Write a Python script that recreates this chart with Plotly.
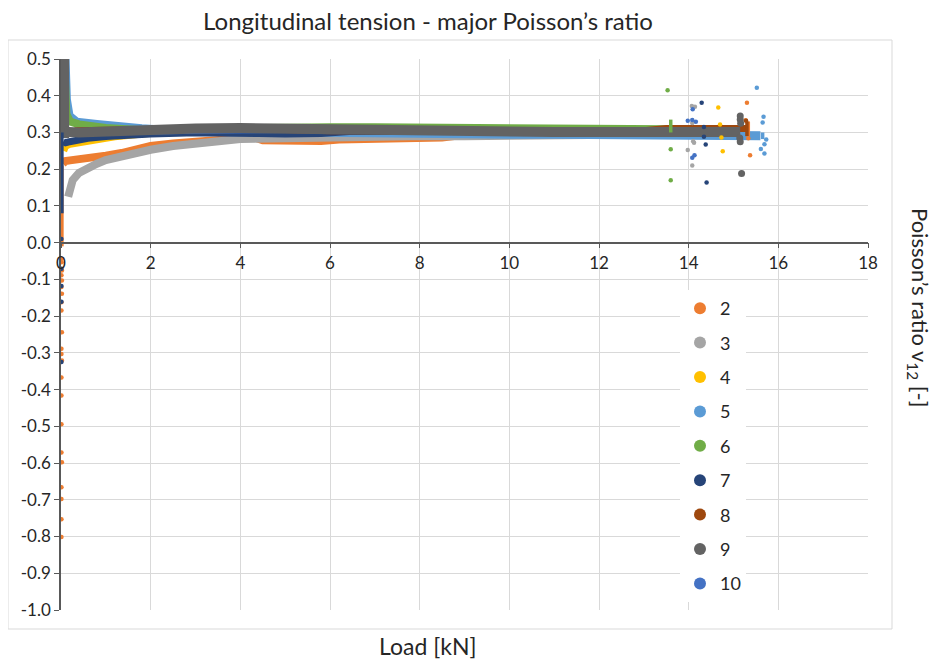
import plotly.graph_objects as go

# ---------------- data ----------------
series_names = ["2", "3", "4", "5", "6", "7", "8", "9", "10"]
series_colors = ["#ED7D31", "#A5A5A5", "#FFC000", "#5B9BD5", "#70AD47",
                 "#264478", "#9E480E", "#636363", "#4472C4"]

# dense measurement bands (centre lines)
band_x_2 = [0.04, 0.1, 0.2, 0.4, 0.6, 1.0, 1.35, 2.0, 2.5, 3.1, 3.6, 4.0, 4.3, 4.5, 5.0, 5.8, 6.2, 7.0, 8.0, 8.5, 9.0, 10.0, 12.0, 14.0, 15.3]
band_y_2 = [0.215, 0.222, 0.224, 0.226, 0.229, 0.237, 0.244, 0.263, 0.270, 0.277, 0.281, 0.285, 0.287, 0.279, 0.277, 0.277, 0.281, 0.282, 0.284, 0.286, 0.294, 0.298, 0.299, 0.300, 0.301]
band_x_3 = [0.16, 0.2, 0.26, 0.4, 0.6, 0.8, 1.0, 1.35, 2.0, 2.5, 3.1, 3.6, 4.0, 5.0, 6.0, 7.0, 7.8, 9.0, 10.0, 11.0, 12.0, 13.0, 14.2]
band_y_3 = [0.125, 0.150, 0.170, 0.190, 0.205, 0.215, 0.225, 0.236, 0.253, 0.263, 0.272, 0.278, 0.282, 0.284, 0.287, 0.288, 0.290, 0.290, 0.292, 0.293, 0.294, 0.295, 0.296]
band_x_4 = [0.06, 0.1, 0.2, 0.4, 0.6, 0.8, 1.2, 2.0, 3.0, 4.0, 5.0, 6.0, 8.0, 10.0, 12.0, 14.0, 15.0]
band_y_4 = [0.250, 0.262, 0.268, 0.272, 0.276, 0.280, 0.288, 0.298, 0.303, 0.306, 0.307, 0.308, 0.306, 0.305, 0.304, 0.303, 0.303]
band_x_5 = [0.09, 0.1, 0.12, 0.18, 0.35, 0.8, 1.2, 1.8, 2.5, 3.5, 4.5, 5.0, 5.5, 6.0, 6.5, 7.0, 8.0, 9.0, 10.0, 11.0, 12.0, 13.0, 14.0, 15.0, 15.6]
band_y_5 = [0.500, 0.450, 0.390, 0.345, 0.328, 0.322, 0.316, 0.310, 0.305, 0.303, 0.302, 0.300, 0.300, 0.300, 0.299, 0.298, 0.297, 0.296, 0.295, 0.295, 0.295, 0.294, 0.293, 0.292, 0.291]
band_x_6 = [0.07, 0.09, 0.12, 0.2, 0.4, 1.0, 2.0, 3.0, 4.0, 4.5, 5.0, 6.0, 7.0, 8.0, 9.0, 9.5, 10.0, 11.0, 12.0, 13.0, 13.6]
band_y_6 = [0.500, 0.400, 0.350, 0.330, 0.322, 0.312, 0.305, 0.305, 0.306, 0.312, 0.314, 0.314, 0.314, 0.314, 0.313, 0.310, 0.309, 0.309, 0.309, 0.309, 0.309]
band_x_7 = [0.05, 0.1, 0.16, 0.3, 0.6, 1.0, 1.5, 2.0, 3.0, 4.0, 4.4, 5.0, 5.8, 6.5, 8.0, 10.0, 12.0, 14.3]
band_y_7 = [0.275, 0.272, 0.274, 0.278, 0.284, 0.289, 0.293, 0.296, 0.299, 0.300, 0.297, 0.296, 0.297, 0.303, 0.304, 0.302, 0.302, 0.302]
band_x_8 = [0.3, 1.0, 2.0, 3.0, 4.0, 5.0, 6.0, 8.0, 10.0, 12.0, 13.0, 13.5, 14.5, 15.3]
band_y_8 = [0.305, 0.305, 0.308, 0.310, 0.310, 0.308, 0.305, 0.304, 0.303, 0.303, 0.305, 0.311, 0.311, 0.311]
band_x_9 = [0.07, 0.07, None, 0.07, 0.2, 0.4, 0.7, 1.0, 1.5, 2.0, 3.0, 4.0, 5.0, 6.0, 7.0, 8.0, 9.0, 10.0, 11.0, 12.0, 13.0, 14.0, 15.15]
band_y_9 = [0.500, 0.285, None, 0.302, 0.300, 0.300, 0.301, 0.303, 0.306, 0.309, 0.311, 0.312, 0.310, 0.306, 0.305, 0.304, 0.302, 0.301, 0.301, 0.301, 0.301, 0.301, 0.301]
band_x_10 = [0.05, 0.2, 1.0, 3.0, 5.0, 8.0, 10.0, 12.0, 14.1]
band_y_10 = [0.300, 0.300, 0.300, 0.305, 0.307, 0.305, 0.303, 0.302, 0.302]

# thin vertical segments (spikes at zero load, end caps at failure)
spike_x_2 = [0.02, 0.02, None, 15.33, 15.33]
spike_y_2 = [-0.01, 0.21, None, 0.290, 0.330]
spike_x_5 = [15.65, 15.65]
spike_y_5 = [0.282, 0.300]
spike_x_6 = [13.6, 13.6]
spike_y_6 = [0.300, 0.335]
spike_x_7 = [0.02, 0.02]
spike_y_7 = [0.08, 0.30]
spike_x_8 = [15.3, 15.3]
spike_y_8 = [0.290, 0.330]

# scattered single readings
dots_x_2 = [0.01, 0.01, 0.02, 0.01, 0.02, 0.01, 0.02, 0.01, 0.01, 0.02, 0.01, 0.01, 0.02, 0.01, 0.01, 0.01, 0.01, 0.02, 0.01, 0.01, 0.01, 0.01,
            15.30, 15.27, 15.37, 15.33]
dots_y_2 = [-0.044, -0.053, -0.076, -0.089, -0.103, -0.121, -0.139, -0.162, -0.185, -0.244, -0.289, -0.303, -0.321, -0.367, -0.416, -0.494, -0.571, -0.598, -0.666, -0.698, -0.753, -0.801,
            0.381, 0.333, 0.238, 0.284]
dots_x_3 = [14.07, 14.14, 14.08, 14.10, 14.12, 13.98, 14.08]
dots_y_3 = [0.372, 0.370, 0.326, 0.276, 0.272, 0.252, 0.210]
dots_x_4 = [14.66, 14.70, 14.73, 14.76]
dots_y_4 = [0.368, 0.322, 0.286, 0.249]
dots_x_5 = [15.52, 15.67, 15.65, 15.73, 15.69, 15.61, 15.69]
dots_y_5 = [0.422, 0.343, 0.327, 0.281, 0.268, 0.255, 0.243]
dots_x_6 = [13.53, 13.60, 13.60]
dots_y_6 = [0.415, 0.254, 0.170]
dots_x_7 = [0.01, 0.01, 0.01, 0.01, 0.01, 14.29, 14.34, 14.34, 14.38, 14.40]
dots_y_7 = [0.010, -0.071, -0.118, -0.161, -0.325, 0.381, 0.315, 0.288, 0.267, 0.164]
dots_x_8 = [15.28]
dots_y_8 = [0.332]
dots_x_9 = [15.15, 15.15, 15.16, 15.14, 15.15, 15.18]
dots_y_9 = [0.345, 0.335, 0.325, 0.285, 0.275, 0.188]
dots_x_10 = [14.09, 13.98, 14.08, 14.16, 14.13, 14.08]
dots_y_10 = [0.363, 0.332, 0.334, 0.329, 0.238, 0.231]

x_tick_vals = [0, 2, 4, 6, 8, 10, 12, 14, 16, 18]
x_tick_text = ["0", "2", "4", "6", "8", "10", "12", "14", "16", "18"]
y_tick_vals = [0.5, 0.4, 0.3, 0.2, 0.1, 0.0, -0.1, -0.2, -0.3, -0.4, -0.5, -0.6, -0.7, -0.8, -0.9, -1.0]
y_tick_text = ["0.5", "0.4", "0.3", "0.2", "0.1", "0.0", "-0.1", "-0.2", "-0.3", "-0.4", "-0.5", "-0.6", "-0.7", "-0.8", "-0.9", "-1.0"]

# ---------------- styling ----------------
FONT = "Lato"
TXT = "#262626"
band_width = {"2": 8, "3": 8, "4": 7, "5": 9, "6": 8, "7": 7, "8": 7, "9": 10, "10": 6}
dot_size = {"9": 7}
draw_order = ["2", "3", "4", "5", "6", "7", "8", "10", "9"]

# the page body has an 8 px default margin, so the figure is offset by 8 px
FIG_W, FIG_H = 930, 654
PLOT_L, PLOT_T, PLOT_W, PLOT_H = 53, 51, 807, 551

data = globals()
color_of = dict(zip(series_names, series_colors))

fig = go.Figure()
for s in draw_order:
    fig.add_trace(go.Scatter(x=data["band_x_" + s], y=data["band_y_" + s], mode="lines",
                             line=dict(color=color_of[s], width=band_width[s]),
                             showlegend=False, hoverinfo="skip", connectgaps=False))
for s in draw_order:
    if ("spike_x_" + s) in data:
        fig.add_trace(go.Scatter(x=data["spike_x_" + s], y=data["spike_y_" + s], mode="lines",
                                 line=dict(color=color_of[s], width=3.5),
                                 showlegend=False, hoverinfo="skip"))
for s in series_names:
    fig.add_trace(go.Scatter(x=data["dots_x_" + s], y=data["dots_y_" + s], mode="markers",
                             marker=dict(color=color_of[s], size=dot_size.get(s, 4.5)),
                             name=s, legendgroup="g" + s, showlegend=True))


def px_x(page_x):
    return (page_x - 8 - PLOT_L) / PLOT_W


def px_y(page_y):
    return (PLOT_T + PLOT_H - (page_y - 8)) / PLOT_H


fig.update_layout(
    width=FIG_W, height=FIG_H,
    margin=dict(l=PLOT_L, r=FIG_W - PLOT_L - PLOT_W, t=PLOT_T, b=FIG_H - PLOT_T - PLOT_H),
    paper_bgcolor="white", plot_bgcolor="white",
    font=dict(family=FONT, size=17, color=TXT),
    title=dict(text="Longitudinal tension - major Poisson’s ratio", x=(428 - 8) / FIG_W, xref="container",
               xanchor="center", y=1 - (22 - 8) / FIG_H, yanchor="middle",
               font=dict(size=24, color=TXT, family=FONT)),
    legend=dict(x=px_x(680), xanchor="left", y=px_y(290), yanchor="top",
                bgcolor="white", borderwidth=0, font=dict(size=18, color=TXT, family=FONT),
                itemsizing="constant", tracegroupgap=8, traceorder="grouped"),
    showlegend=True,
)
fig.update_xaxes(range=[0, 18], tickvals=x_tick_vals, ticktext=x_tick_text,
                 showgrid=True, gridcolor="#D9D9D9", gridwidth=1, zeroline=False,
                 showline=True, linecolor="#595959", linewidth=1.5,
                 ticks="outside", ticklen=5, tickcolor="#595959",
                 anchor="free", position=2 / 3, tickfont=dict(size=17, color=TXT))
fig.update_yaxes(range=[-1.0, 0.5], tickvals=y_tick_vals, ticktext=y_tick_text,
                 showgrid=True, gridcolor="#D9D9D9", gridwidth=1, zeroline=False,
                 showline=True, linecolor="#595959", linewidth=1.5,
                 ticks="outside", ticklen=5, tickcolor="#595959",
                 tickfont=dict(size=17, color=TXT))

# chart-area frame
fig.add_shape(type="rect", xref="paper", yref="paper",
              x0=px_x(8), x1=px_x(892), y0=px_y(629), y1=px_y(40),
              line=dict(color="#D9D9D9", width=1), fillcolor="rgba(0,0,0,0)", layer="below")

fig.add_annotation(text="Load [kN]", xref="paper", yref="paper",
                   x=px_x(428), y=px_y(646), xanchor="center", yanchor="middle",
                   showarrow=False, font=dict(size=23, color=TXT, family=FONT))
fig.add_annotation(text="Poisson’s ratio v<sub>12</sub> [-]", xref="paper", yref="paper",
                   x=px_x(919), y=px_y(307), xanchor="center", yanchor="middle",
                   textangle=90, showarrow=False, font=dict(size=22, color=TXT, family=FONT))

fig.write_html("out.html")
